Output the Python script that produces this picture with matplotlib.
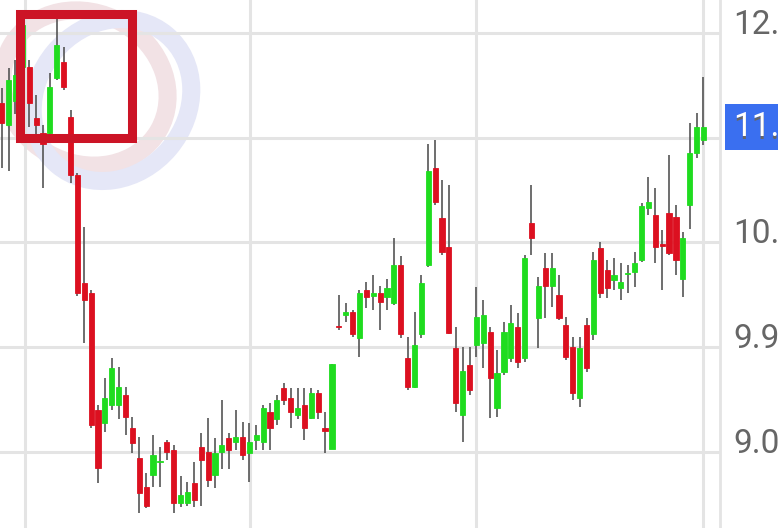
import matplotlib
matplotlib.use("Agg")
import matplotlib.pyplot as plt
from matplotlib.patches import Rectangle, Ellipse
import numpy as np

# candle data
opens = [12.00, 11.81, 12.02, 12.31, 12.31, 11.87, 11.74, 11.74, 12.21, 12.35,
         11.88, 11.38, 10.45, 10.37, 9.36, 9.25, 9.40, 9.40, 9.49, 9.21,
         8.95, 8.70, 8.80, 8.91, 9.09, 9.02, 8.56, 8.56, 8.73, 9.04,
         9.00, 8.80, 9.00, 9.12, 9.09, 9.13, 8.99, 9.10, 9.09, 9.34,
         9.28, 9.55, 9.46, 9.32, 9.40, 9.29, 9.51, 9.21, 9.03, 10.08,
         10.18, 10.20, 9.98, 10.39, 10.34, 10.37, 10.33, 10.28, 10.61, 9.81,
         9.56, 10.01, 10.61, 11.44, 11.01, 10.76, 9.89, 9.32, 9.75, 9.92,
         9.94, 10.03, 9.38, 9.69, 9.81, 10.07, 9.81, 10.97, 10.15, 10.58,
         10.43, 10.35, 10.09, 9.90, 9.46, 10.09, 10.01, 10.75, 10.56, 10.48,
         10.41, 10.53, 10.55, 10.65, 11.10, 11.04, 10.79, 11.05, 11.02, 10.49,
         11.12, 11.57, 11.68]
highs = [12.13, 12.30, 12.37, 12.73, 12.37, 12.07, 11.81, 12.26, 12.73, 12.48,
         11.94, 11.40, 10.93, 10.39, 9.40, 9.64, 9.81, 9.73, 9.56, 9.30,
         9.13, 8.82, 9.15, 9.04, 9.10, 9.06, 8.79, 8.74, 8.91, 9.16,
         9.29, 9.12, 9.45, 9.16, 9.36, 9.26, 9.25, 9.23, 9.40, 9.42,
         9.49, 9.59, 9.55, 9.55, 9.55, 9.55, 9.53, 9.34, 9.76, 10.35,
         10.28, 10.22, 10.39, 10.46, 10.52, 10.43, 10.49, 10.84, 10.68, 9.99,
         10.20, 10.52, 11.65, 11.68, 11.34, 11.29, 10.07, 9.90, 9.90, 10.42,
         10.31, 10.07, 9.88, 10.12, 10.26, 10.19, 10.69, 11.29, 10.50, 10.71,
         10.71, 10.52, 10.16, 9.99, 9.99, 10.15, 10.72, 10.80, 10.65, 10.67,
         10.62, 10.61, 10.72, 11.14, 11.36, 11.27, 10.91, 11.55, 11.12, 10.89,
         11.83, 11.91, 12.22]
lows = [11.44, 11.41, 11.90, 12.28, 11.79, 11.71, 11.27, 11.72, 12.20, 12.11,
        11.31, 10.34, 9.94, 9.21, 8.73, 9.17, 9.36, 9.28, 9.15, 8.99,
        8.48, 8.52, 8.70, 8.70, 8.93, 8.48, 8.53, 8.54, 8.53, 8.54,
        8.70, 8.69, 8.85, 8.85, 9.02, 8.93, 8.74, 9.02, 9.02, 9.02,
        9.23, 9.40, 9.21, 9.28, 9.10, 9.28, 9.28, 8.99, 9.03, 10.05,
        10.12, 9.99, 9.82, 10.24, 10.22, 10.05, 10.22, 10.26, 9.98, 9.53,
        9.55, 9.98, 10.59, 11.12, 10.69, 10.01, 9.34, 9.09, 9.49, 9.82,
        9.72, 9.29, 9.30, 9.66, 9.77, 9.72, 9.77, 10.69, 9.89, 10.15,
        10.25, 10.13, 9.79, 9.45, 9.39, 9.69, 9.96, 10.32, 10.32, 10.39,
        10.31, 10.37, 10.42, 10.63, 11.04, 10.62, 10.39, 10.69, 10.52, 10.33,
        10.92, 11.53, 11.64]
closes = [11.83, 12.20, 12.24, 12.67, 12.00, 11.81, 11.65, 12.14, 12.50, 12.14,
          11.38, 10.37, 10.31, 9.23, 8.86, 9.46, 9.72, 9.56, 9.30, 9.08,
          8.65, 8.54, 8.97, 8.92, 9.00, 8.56, 8.63, 8.66, 8.59, 8.93,
          8.76, 8.99, 9.06, 9.02, 9.13, 8.97, 9.09, 9.15, 9.38, 9.21,
          9.45, 9.45, 9.34, 9.38, 9.21, 9.51, 9.34, 9.18, 9.76, 10.07,
          10.20, 10.01, 10.37, 10.33, 10.37, 10.29, 10.41, 10.61, 10.01, 9.56,
          9.92, 10.45, 11.41, 11.15, 10.72, 10.02, 9.42, 9.70, 9.53, 10.16,
          10.18, 9.64, 9.68, 10.03, 10.11, 9.77, 10.67, 10.84, 10.43, 10.43,
          10.58, 10.15, 9.82, 9.51, 9.89, 9.72, 10.65, 10.37, 10.41, 10.52,
          10.46, 10.54, 10.62, 11.11, 11.15, 10.76, 10.77, 10.71, 10.65, 10.84,
          11.57, 11.79, 11.79]

price_ticks = [9.00, 9.90, 10.80, 11.70, 12.60]
last_price = closes[-1]

up_color = "#1fdc1f"
down_color = "#dc1020"
wick_color = "#555555"
grid_color = "#e4e4e4"

W, H = 778, 528
fig = plt.figure(figsize=(W / 100, H / 100), dpi=100)
fig.patch.set_facecolor("white")

# watermark logo (behind the candles)
back = fig.add_axes([0, 0, 1, 1], zorder=0)
back.set_xlim(0, W)
back.set_ylim(H, 0)
back.axis("off")
back.add_patch(Ellipse((85, 88), 170, 150, angle=30, fill=False,
                       edgecolor="#f2e2e5", lw=13))
back.add_patch(Ellipse((112, 100), 170, 150, angle=-50, fill=False,
                       edgecolor="#e5e7f7", lw=13))

ax = fig.add_axes([0, 0, 720 / W, 1], zorder=1)
ax.patch.set_alpha(0)

n = len(opens)
idx = np.arange(n)
o = np.array(opens)
c = np.array(closes)
hi = np.array(highs)
lo = np.array(lows)
up = c >= o
colors = np.where(up, up_color, down_color)

ax.vlines(idx, lo, hi, color=wick_color, lw=1.2, zorder=2)
ax.bar(idx, np.abs(c - o), bottom=np.minimum(o, c), width=0.75,
       color=colors, edgecolor=colors, lw=0.6, zorder=3)

step = 6.88
x0 = 1.7
ax.set_xlim(-x0 / step, (720 - x0) / step)
ax.set_ylim(8.347, 12.8835)

ax.set_xticks([(25 - x0) / step, (250 - x0) / step, (476 - x0) / step, (703 - x0) / step])
ax.set_xticklabels([])
ax.set_yticks(price_ticks)
ax.set_yticklabels([])
ax.tick_params(axis="both", length=0)
ax.grid(True, color=grid_color, lw=2.2, zorder=0)
for s in ["top", "left", "bottom"]:
    ax.spines[s].set_visible(False)
ax.spines["right"].set_color(grid_color)
ax.spines["right"].set_linewidth(2)

# front overlay: price labels, highlight box and current price tag
front = fig.add_axes([0, 0, 1, 1], zorder=2)
front.set_xlim(0, W)
front.set_ylim(H, 0)
front.axis("off")
for t in price_ticks:
    ty = H - ax.transData.transform((0, t))[1]
    front.text(733, ty - 8, "%.2f" % t, color="#666666", fontsize=24,
               fontfamily="Roboto", va="center", ha="left")
front.add_patch(Rectangle((20.5, 13.5), 112, 124, fill=False,
                          edgecolor="#cc1426", lw=6.5))
ly = H - ax.transData.transform((0, last_price))[1]
front.add_patch(Rectangle((725, ly - 23), 60, 46, color="#3a6ff0", lw=0))
front.text(733, ly, "%.2f" % last_price, color="white", fontsize=24,
           fontfamily="Roboto", va="center", ha="left")

fig.savefig("out.png", dpi=100)
